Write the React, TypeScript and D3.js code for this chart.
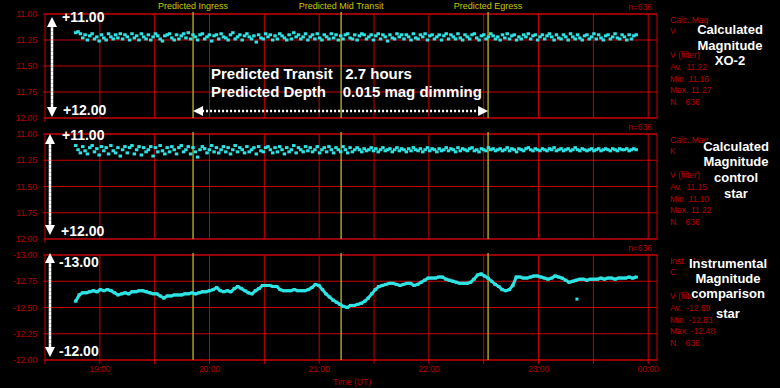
import * as d3 from "d3";

// UT hours, 24 = 00:00 next day
const hourTicks = [19, 20, 21, 22, 23, 24];
const hourLabels = ["19:00", "20:00", "21:00", "22:00", "23:00", "00:00"];
const gridTimes = [19, 19.5, 20, 20.5, 21, 21.5, 22, 22.5, 23, 23.5, 24];

const eventTimes = [19.85, 21.2, 22.54];
const eventLabels = ["Predicted Ingress", "Predicted Mid Transit", "Predicted Egress"];

const firstObs = 18.78;
const lastObs = 23.89;

// XO-2 calculated magnitude (V)
const xo2Mag = [
  11.18, 11.17, 11.19, 11.23, 11.20, 11.25, 11.21, 11.19, 11.24, 11.22, 11.26, 11.20, 11.23, 11.25, 11.19, 11.22, 11.24, 11.20, 11.23, 11.19,
  11.24, 11.20, 11.22, 11.25, 11.19, 11.23, 11.21, 11.25, 11.19, 11.22, 11.24, 11.20, 11.25, 11.22, 11.19, 11.21, 11.24, 11.26, 11.21, 11.20,
  11.19, 11.23, 11.25, 11.20, 11.24, 11.21, 11.19, 11.23, 11.18, 11.24, 11.20, 11.22, 11.25, 11.20, 11.19, 11.24, 11.22, 11.20, 11.26, 11.21,
  11.20, 11.24, 11.19, 11.22, 11.23, 11.25, 11.20, 11.18, 11.24, 11.22, 11.20, 11.25, 11.21, 11.19, 11.22, 11.24, 11.21, 11.27, 11.20, 11.23,
  11.24, 11.19, 11.22, 11.20, 11.25, 11.21, 11.24, 11.19, 11.21, 11.23, 11.25, 11.20, 11.24, 11.18, 11.22, 11.20, 11.24, 11.22, 11.19, 11.25,
  11.22, 11.20, 11.24, 11.19, 11.23, 11.25, 11.20, 11.22, 11.24, 11.19, 11.23, 11.20, 11.25, 11.21, 11.24, 11.20, 11.19, 11.23, 11.24, 11.20,
  11.25, 11.21, 11.19, 11.20, 11.24, 11.22, 11.20, 11.25, 11.21, 11.19, 11.24, 11.20, 11.22, 11.26, 11.20, 11.23, 11.24, 11.19, 11.22, 11.20,
  11.24, 11.20, 11.22, 11.25, 11.19, 11.23, 11.24, 11.20, 11.22, 11.19, 11.25, 11.21, 11.20, 11.24, 11.22, 11.20, 11.25, 11.21, 11.19, 11.24,
  11.20, 11.22, 11.24, 11.19, 11.23, 11.25, 11.20, 11.22, 11.24, 11.20, 11.19, 11.23, 11.25, 11.21, 11.20, 11.24, 11.22, 11.19, 11.21, 11.24,
  11.22, 11.25, 11.20, 11.23, 11.19, 11.24, 11.21, 11.20, 11.25, 11.22, 11.24, 11.20, 11.22, 11.19, 11.24, 11.21, 11.20, 11.25, 11.22, 11.20,
  11.24, 11.21, 11.19, 11.22, 11.25, 11.20, 11.23, 11.24, 11.20, 11.22, 11.25, 11.19, 11.22, 11.24, 11.20, 11.23, 11.25, 11.21, 11.20, 11.24,
  11.22, 11.19, 11.24, 11.20, 11.23, 11.25, 11.21, 11.20, 11.24, 11.22, 11.19, 11.23, 11.24, 11.20, 11.22, 11.25, 11.20, 11.24, 11.21, 11.20,
];

// control star calculated magnitude (K)
const controlMag = [
  11.11, 11.15, 11.18, 11.12, 11.16, 11.19, 11.13, 11.11, 11.17, 11.14, 11.20, 11.12, 11.16, 11.13, 11.19, 11.11, 11.16, 11.18, 11.13, 11.21,
  11.15, 11.12, 11.18, 11.13, 11.11, 11.19, 11.15, 11.12, 11.20, 11.13, 11.17, 11.15, 11.12, 11.21, 11.13, 11.17, 11.11, 11.16, 11.19, 11.13,
  11.17, 11.12, 11.15, 11.19, 11.13, 11.11, 11.17, 11.15, 11.12, 11.19, 11.13, 11.17, 11.22, 11.15, 11.12, 11.14, 11.18, 11.15, 11.11, 11.17,
  11.13, 11.18, 11.15, 11.12, 11.17, 11.13, 11.19, 11.15, 11.11, 11.17, 11.13, 11.15, 11.18, 11.12, 11.17, 11.15, 11.13, 11.19, 11.12, 11.16,
  11.17, 11.13, 11.12, 11.15, 11.18, 11.13, 11.17, 11.12, 11.15, 11.19, 11.13, 11.17, 11.15, 11.11, 11.18, 11.13, 11.15, 11.17, 11.12, 11.16,
  11.13, 11.17, 11.15, 11.12, 11.18, 11.15, 11.13, 11.17, 11.12, 11.15, 11.18, 11.13, 11.15, 11.17, 11.12, 11.15, 11.18, 11.13, 11.17, 11.15,
  11.13, 11.15, 11.17, 11.14, 11.16, 11.15, 11.13, 11.16, 11.14, 11.17, 11.15, 11.13, 11.16, 11.15, 11.14, 11.17, 11.15, 11.13, 11.16, 11.14,
  11.15, 11.17, 11.14, 11.16, 11.13, 11.15, 11.16, 11.14, 11.17, 11.15, 11.13, 11.16, 11.14, 11.15, 11.17, 11.14, 11.16, 11.15, 11.13, 11.16,
  11.14, 11.15, 11.17, 11.13, 11.16, 11.14, 11.15, 11.16, 11.14, 11.13, 11.16, 11.15, 11.17, 11.14, 11.15, 11.16, 11.13, 11.15, 11.14, 11.16,
  11.15, 11.14, 11.16, 11.15, 11.13, 11.16, 11.14, 11.15, 11.17, 11.14, 11.15, 11.16, 11.14, 11.13, 11.15, 11.16, 11.14, 11.15, 11.16, 11.14,
  11.15, 11.16, 11.14, 11.15, 11.13, 11.16, 11.15, 11.14, 11.16, 11.15, 11.14, 11.16, 11.15, 11.13, 11.15, 11.16, 11.14, 11.15, 11.16, 11.15,
  11.14, 11.16, 11.15, 11.14, 11.16, 11.15, 11.14, 11.15, 11.16, 11.14, 11.15, 11.16, 11.14, 11.15, 11.15, 11.14, 11.16, 11.15, 11.14, 11.15,
];

// comparison star instrumental magnitude (C)
const compMag = [
  -12.56, -12.62, -12.64, -12.64, -12.65, -12.66, -12.65, -12.67, -12.66, -12.67,
  -12.66, -12.64, -12.62, -12.63, -12.64, -12.63, -12.65, -12.65, -12.66, -12.66,
  -12.65, -12.64, -12.63, -12.63, -12.61, -12.59, -12.61, -12.61, -12.62, -12.62,
  -12.62, -12.63, -12.63, -12.64, -12.63, -12.64, -12.65, -12.65, -12.66, -12.67,
  -12.69, -12.66, -12.65, -12.66, -12.65, -12.68, -12.70, -12.68, -12.66, -12.64,
  -12.63, -12.66, -12.68, -12.71, -12.71, -12.71, -12.70, -12.70, -12.67, -12.66,
  -12.66, -12.66, -12.67, -12.66, -12.66, -12.66, -12.67, -12.69, -12.72, -12.71,
  -12.67, -12.63, -12.60, -12.57, -12.55, -12.53, -12.51, -12.50, -12.52, -12.52,
  -12.53, -12.54, -12.56, -12.59, -12.63, -12.67, -12.70, -12.71, -12.72, -12.73,
  -12.73, -12.72, -12.71, -12.72, -12.73, -12.73, -12.71, -12.72, -12.74, -12.76,
  -12.78, -12.78, -12.78, -12.79, -12.79, -12.77, -12.76, -12.75, -12.74, -12.73,
  -12.73, -12.73, -12.74, -12.77, -12.81, -12.82, -12.80, -12.78, -12.75, -12.72,
  -12.70, -12.67, -12.66, -12.67, -12.71, -12.79, -12.79, -12.78, -12.78, -12.79,
  -12.80, -12.80, -12.79, -12.78, -12.77, -12.78, -12.80, -12.79, -12.78, -12.76,
  -12.74, -12.75, -12.76, -12.77, -12.77, -12.76, -12.77, -12.77, -12.77, -12.78,
  -12.77, -12.78, -12.78, -12.77, -12.78, -12.78, -12.78, -12.79, -12.78, -12.79,
];
const compOutlierTimes = [23.35];
const compOutlierMags = [-12.58];

const magTicks = [11, 11.25, 11.5, 11.75, 12];
const magTickLabels = ["11.00", "11.25", "11.50", "11.75", "12.00"];
const instTicks = [-13, -12.75, -12.5, -12.25, -12];
const instTickLabels = ["-13.00", "-12.75", "-12.50", "-12.25", "-12.00"];

const xo2Legend = ["Calc. Mag", "V", "V (filter)", "Av.  11.22", "Min. 11.16", "Max. 11.27", "N.   636"];
const controlLegend = ["Calc. Mag", "K", "V (filter)", "Av.  11.15", "Min. 11.10", "Max. 11.22", "N.   636"];
const compLegend = ["Inst. Mag", "C", "V (filter)", "Av.  -12.69", "Min. -12.83", "Max. -12.48", "N.   636"];

const xo2Title = ["Calculated", "Magnitude", "XO-2"];
const controlTitle = ["Calculated", "Magnitude", "control", "star"];
const compTitle = ["Instrumental", "Magnitude", "comparison", "star"];

const RED = "#c80000";
const RED_TEXT = "#b80000";
const OLIVE = "#a3a31c";
const YELLOW_TEXT = "#c8c800";
const CYAN = "#2ee3e3";

const W = 780;
const H = 388;
const left = 45;
const right = 657;

const x = d3.scaleLinear().domain([18.5, 24.08]).range([left, right]);

const legendOffsets = [9, 19.5, 43.5, 56, 67.5, 79, 90.5];

const panels = [
  {
    top: 14, bottom: 118, domain: [11, 12], ticks: magTicks, tickLabels: magTickLabels,
    values: xo2Mag, joined: false, legend: xo2Legend, title: xo2Title, titleX: 730, titleY: [34, 50, 65],
    arrowTop: "+11.00", arrowBottom: "+12.00", arrowTopPos: [62, 22], arrowBottomPos: [63, 114.5],
    arrowX: 52, arrowY: [17, 117],
  },
  {
    top: 134, bottom: 239, domain: [11, 12], ticks: magTicks, tickLabels: magTickLabels,
    values: controlMag, joined: false, legend: controlLegend, title: controlTitle, titleX: 736, titleY: [150.5, 166, 181.5, 197.5],
    arrowTop: "+11.00", arrowBottom: "+12.00", arrowTopPos: [62, 139.5], arrowBottomPos: [61, 236],
    arrowX: 50, arrowY: [134, 235],
  },
  {
    top: 255, bottom: 360, domain: [-13, -12], ticks: instTicks, tickLabels: instTickLabels,
    values: compMag, joined: true, legend: compLegend, title: compTitle, titleX: 728, titleY: [267.5, 283, 298, 317.5],
    arrowTop: "-13.00", arrowBottom: "-12.00", arrowTopPos: [59, 267], arrowBottomPos: [59, 356],
    arrowX: 50, arrowY: [253, 357],
  },
];

function VArrow({ cx, y1, y2 }: { cx: number; y1: number; y2: number }) {
  const hw = 5;
  const hl = 10;
  return (
    <g>
      <line x1={cx} x2={cx} y1={y1 + hl - 1} y2={y2 - hl + 1} stroke="#fff" strokeWidth={2.5} />
      <line x1={cx} x2={cx} y1={y1 + hl} y2={y2 - hl} stroke="#9a9a9a" strokeWidth={1} strokeDasharray="1 3" />
      <path d={`M${cx},${y1} L${cx - hw},${y1 + hl} L${cx + hw},${y1 + hl} Z`} fill="#fff" />
      <path d={`M${cx},${y2} L${cx - hw},${y2 - hl} L${cx + hw},${y2 - hl} Z`} fill="#fff" />
    </g>
  );
}

function Panel({ p, isLast }: { p: (typeof panels)[number]; isLast: boolean }) {
  const y = d3.scaleLinear().domain(p.domain).range([p.top, p.bottom]);
  const idx = d3.scaleLinear().domain([0, p.values.length - 1]).range([firstObs, lastObs]);
  const labelFont = "Liberation Sans, Arial, sans-serif";
  const line = d3
    .line<number>()
    .x((_, i) => x(idx(i)))
    .y((v) => y(v));
  return (
    <g>
      {/* horizontal grid */}
      {p.ticks.map((t, i) => (
        <g key={"h" + i}>
          <line x1={left - 2} x2={right} y1={y(t)} y2={y(t)} stroke={RED} strokeWidth={1} />
          <text x={37} y={y(t) + 3} textAnchor="end" fontSize={8.5} fill={RED_TEXT} fontFamily={labelFont}>
            {p.tickLabels[i]}
          </text>
        </g>
      ))}
      {/* vertical grid */}
      {gridTimes.map((t) => (
        <line key={"v" + t} x1={x(t)} x2={x(t)} y1={p.top} y2={p.bottom + (isLast ? 4 : 0)} stroke={RED} strokeWidth={1} />
      ))}
      <rect x={left} y={p.top} width={right - left} height={p.bottom - p.top} fill="none" stroke={RED} strokeWidth={1} />
      <line x1={left} x2={left} y1={p.bottom} y2={p.bottom + 4} stroke={RED} />
      {/* predicted ingress / mid / egress */}
      {eventTimes.map((t) => (
        <line key={"e" + t} x1={x(t)} x2={x(t)} y1={p.top - 2} y2={p.bottom} stroke={OLIVE} strokeWidth={1.5} />
      ))}
      <text x={652} y={p.top - 4} textAnchor="end" fontSize={8.5} fill={RED_TEXT} fontFamily={labelFont}>
        n=636
      </text>
      {/* data */}
      {p.joined && <path d={line(p.values) ?? ""} fill="none" stroke={CYAN} strokeWidth={3} />}
      {p.values.map((v, i) => (
        <rect key={"d" + i} x={x(idx(i)) - 1.75} y={y(v) - 1.5} width={3.5} height={3} fill={CYAN} />
      ))}
      {/* legend */}
      {p.legend.map((s, i) => (
        <text key={"l" + i} x={670} y={p.top + legendOffsets[i]} fontSize={8.5} fill={RED_TEXT}
          fontFamily={labelFont} style={{ whiteSpace: "pre" }}>
          {s}
        </text>
      ))}
      {p.title.map((s, i) => (
        <text key={"t" + i} x={p.titleX} y={p.titleY[i]} textAnchor="middle" fontSize={13} fontWeight="bold"
          fill="#fff" stroke="#000" strokeWidth={3} paintOrder="stroke" fontFamily={labelFont}>
          {s}
        </text>
      ))}
      <VArrow cx={p.arrowX} y1={p.arrowY[0]} y2={p.arrowY[1]} />
      <text x={p.arrowTopPos[0]} y={p.arrowTopPos[1]} fontSize={14} fontWeight="bold" fill="#fff" fontFamily={labelFont}>
        {p.arrowTop}
      </text>
      <text x={p.arrowBottomPos[0]} y={p.arrowBottomPos[1]} fontSize={14} fontWeight="bold" fill="#fff" fontFamily={labelFont}>
        {p.arrowBottom}
      </text>
    </g>
  );
}

export default function App() {
  const font = "Liberation Sans, Arial, sans-serif";
  const yComp = d3.scaleLinear().domain(panels[2].domain).range([panels[2].top, panels[2].bottom]);
  const xa = x(eventTimes[0]);
  const xb = x(eventTimes[2]);
  const ya = 111;
  return (
    <svg width={W} height={H} style={{ position: "absolute", left: 0, top: 0, background: "#000" }}>
      <rect width={W} height={H} fill="#000" />
      {panels.map((p, i) => (
        <Panel key={i} p={p} isLast={i === panels.length - 1} />
      ))}
      {compOutlierTimes.map((t, i) => (
        <rect key={"o" + i} x={x(t) - 1.5} y={yComp(compOutlierMags[i]) - 1.5} width={3} height={3} fill={CYAN} />
      ))}
      {eventTimes.map((t, i) => (
        <text key={"el" + i} x={x(t)} y={9} textAnchor="middle" fontSize={9} fill={YELLOW_TEXT} fontFamily={font}>
          {eventLabels[i]}
        </text>
      ))}
      {hourTicks.map((t, i) => (
        <text key={"ht" + i} x={x(t)} y={372} textAnchor="middle" fontSize={8.5} fill={RED_TEXT} fontFamily={font}>
          {hourLabels[i]}
        </text>
      ))}
      <text x={352} y={384.5} textAnchor="middle" fontSize={8.5} fill={RED_TEXT} fontFamily={font}>
        Time (UT)
      </text>
      {/* transit annotation */}
      <text x={211} y={79} fontSize={15} fontWeight="bold" fill="#fff" fontFamily={font} style={{ whiteSpace: "pre" }}>
        {"Predicted Transit   2.7 hours"}
      </text>
      <text x={211} y={97} fontSize={15} fontWeight="bold" fill="#fff" fontFamily={font} style={{ whiteSpace: "pre" }}>
        {"Predicted Depth    0.015 mag dimming"}
      </text>
      <line x1={xa + 9} x2={xb - 9} y1={ya} y2={ya} stroke="#fff" strokeWidth={2.5} strokeDasharray="2 2" />
      <path d={`M${xa},${ya} L${xa + 10},${ya - 5} L${xa + 10},${ya + 5} Z`} fill="#fff" />
      <path d={`M${xb},${ya} L${xb - 10},${ya - 5} L${xb - 10},${ya + 5} Z`} fill="#fff" />
    </svg>
  );
}
